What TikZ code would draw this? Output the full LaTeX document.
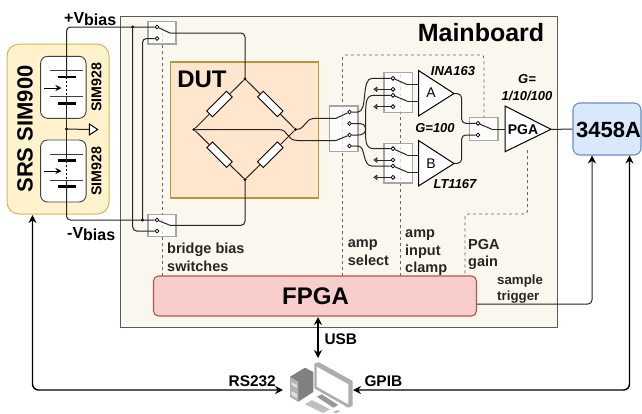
\documentclass[tikz,border=0pt]{standalone}
\usepackage{fontspec}
\setmainfont{Liberation Sans}
\usepackage{tikz}
\usetikzlibrary{arrows.meta,shadows}
\definecolor{main-fill}{HTML}{F9F7EE}
\definecolor{srs-fill}{HTML}{FFF2CC}
\definecolor{srs-line}{HTML}{D6B656}
\definecolor{dut-fill}{HTML}{FFE6CC}
\definecolor{dut-line}{HTML}{B8963A}
\definecolor{fpga-fill}{HTML}{F8CECC}
\definecolor{fpga-line}{HTML}{B85450}
\definecolor{meter-fill}{HTML}{DAE8FC}
\definecolor{meter-line}{HTML}{6C8EBF}
\tikzstyle{main-box}=[draw=black!65,fill=main-fill,line width=1pt,inner sep=0pt,drop shadow={shadow xshift=1pt,shadow yshift=-1pt,opacity=.35,fill=black}]
\tikzstyle{srs-box}=[draw=srs-line,fill=srs-fill,line width=1pt,rounded corners=12pt,inner sep=0pt]
\tikzstyle{sim-box}=[draw=black!75,fill=white,line width=.9pt,rounded corners=7pt,inner sep=0pt]
\tikzstyle{dut-box}=[draw=dut-line,fill=dut-fill,line width=1.1pt,inner sep=0pt]
\tikzstyle{fpga-box}=[draw=fpga-line,fill=fpga-fill,line width=1.1pt,rounded corners=5pt,inner sep=0pt]
\tikzstyle{meter-box}=[draw=meter-line,fill=meter-fill,line width=1.1pt,rounded corners=7pt,inner sep=0pt]
\tikzstyle{switch-box}=[draw=black!35,fill=white,fill opacity=.75,line width=1.2pt,inner sep=0pt]
\tikzstyle{resistor-node}=[draw=black,fill=white,line width=.9pt,minimum width=28pt,minimum height=8pt,inner sep=0pt]
\tikzstyle{terminal-node}=[draw=black,fill=white,circle,line width=.8pt,minimum size=3.8pt,inner sep=0pt]
\tikzstyle{dot-node}=[fill=black,circle,minimum size=3.4pt,inner sep=0pt]
\tikzstyle{wire-line}=[draw=black!85,line width=1pt]
\tikzstyle{bus-line}=[draw=black,line width=1.4pt]
\tikzstyle{ctrl-line}=[draw=black!60,line width=.8pt,dash pattern=on 3pt off 3pt,rounded corners=3pt]
\tikzstyle{amp-shape}=[draw=black,fill=white,line width=1pt]
\tikzstyle{thin-plate}=[draw=black!75,line width=.9pt]
\tikzstyle{thick-plate}=[draw=black,line width=2.6pt]
\tikzstyle{side-label}=[font=\fontsize{14.5}{17.6}\selectfont\bfseries,align=left,anchor=north west,inner sep=0pt,text=black!85]
\tikzstyle{big-label}=[font=\fontsize{24}{28}\selectfont\bfseries,inner sep=0pt]
\tikzstyle{gain-label}=[font=\fontsize{13}{16}\selectfont\bfseries\itshape,inner sep=0pt]
\tikzstyle{bus-label}=[font=\fontsize{15.4}{18}\selectfont\bfseries,inner sep=0pt]
\begin{document}
\begin{tikzpicture}[x=1pt,y=-1pt]
	\useasboundingbox (0,0) rectangle (642,413);

	\node (mainboard)[main-box,minimum width=437pt,minimum height=311pt] at (338.5,171.5) {};
	\node (srs)[srs-box,minimum width=102pt,minimum height=170pt] at (58,129) {};
	\node (dut)[dut-box,minimum width=148pt,minimum height=136pt] at (244.5,130) {};
	\node (sim1)[sim-box,minimum width=45.5pt,minimum height=62pt] at (63.3,87.3) {};
	\node (sim2)[sim-box,minimum width=45.5pt,minimum height=62pt] at (63.3,171) {};

	\node (mainboard-label)[big-label,font=\fontsize{25}{28}\selectfont\bfseries] at (481,33) {Mainboard};
	\node (dut-label)[big-label] at (202,79.5) {DUT};
	\node (srs-label)[big-label,font=\fontsize{22}{26}\selectfont\bfseries,rotate=90] at (25,129) {SRS SIM900};
	\node (sim1-label)[font=\fontsize{14.2}{16}\selectfont\bfseries,rotate=90,inner sep=0pt] at (96.5,87) {SIM928};
	\node (sim2-label)[font=\fontsize{14.2}{16}\selectfont\bfseries,rotate=90,inner sep=0pt] at (96.5,171) {SIM928};
	\node (vp-label)[font=\fontsize{16}{18}\selectfont\bfseries,inner sep=0pt,anchor=base west] at (64,23) {+V\raisebox{-2.7pt}{bias}};
	\node (vn-label)[font=\fontsize{16}{18}\selectfont\bfseries,inner sep=0pt,anchor=base west] at (67,238) {-V\raisebox{-2.7pt}{bias}};

	\draw [ctrl-line] (162.5,276) -- (162.5,27);
	\draw [ctrl-line] (342.5,276) -- (342.5,55) -- (484,55) -- (484,128);
	\draw [ctrl-line] (400.5,276) -- (400.5,73);
	\draw [ctrl-line] (527.5,150) -- (527.5,214) -- (465,214) -- (465,276);

	\node (sw1)[switch-box,minimum width=28pt,minimum height=22.5pt] at (162,32.8) {};
	\node (sw2)[switch-box,minimum width=28pt,minimum height=22pt] at (162,225.2) {};
	\node (sw3)[switch-box,minimum width=28.7pt,minimum height=45.3pt] at (343.7,128.7) {};
	\node (swa)[switch-box,minimum width=28.7pt,minimum height=39.5pt] at (398.4,92.4) {};
	\node (swb)[switch-box,minimum width=28.7pt,minimum height=39.5pt] at (398.4,163.3) {};
	\node (swp)[switch-box,minimum width=28.5pt,minimum height=22.3pt] at (483.8,129) {};

	\node (s1a)[terminal-node] at (157,27) {};
	\node (s1b)[terminal-node] at (157,38.5) {};
	\coordinate (s1p) at (170,33);
	\node (s2a)[terminal-node] at (157,220) {};
	\node (s2b)[terminal-node] at (157,231) {};
	\coordinate (s2p) at (170,225.3);
	\node (s3a)[terminal-node] at (349.5,112) {};
	\node (s3b)[terminal-node] at (349.5,123.5) {};
	\node (s3c)[terminal-node] at (349.5,135) {};
	\node (s3d)[terminal-node] at (349.5,146) {};
	\coordinate (s3p) at (336,118.3);
	\coordinate (s3q) at (336,140.5);
	\node (ua1)[terminal-node] at (393,78.3) {};
	\node (ua2)[terminal-node] at (393,89.3) {};
	\node (ua3)[terminal-node] at (393,95.3) {};
	\node (ua4)[terminal-node] at (393,106.7) {};
	\coordinate (uap) at (407,84.5);
	\coordinate (uaq) at (407,101);
	\node (ub1)[terminal-node] at (393,148.7) {};
	\node (ub2)[terminal-node] at (393,160) {};
	\node (ub3)[terminal-node] at (393,166) {};
	\node (ub4)[terminal-node] at (393,177.3) {};
	\coordinate (ubp) at (407,155);
	\coordinate (ubq) at (407,172);
	\node (spa)[terminal-node] at (478,123.3) {};
	\node (spb)[terminal-node] at (478,135) {};
	\coordinate (spp) at (492,129.3);

	\node (bt)[dot-node] at (245,79) {};
	\node (bl)[dot-node] at (194,129.5) {};
	\node (br)[dot-node] at (295.5,129.5) {};
	\node (bb)[dot-node] at (245,179.5) {};
	\node (r1)[resistor-node,rotate=45] at (219.5,104) {};
	\node (r2)[resistor-node,rotate=-45] at (270.3,104) {};
	\node (r3)[resistor-node,rotate=-45] at (219.5,154.7) {};
	\node (r4)[resistor-node,rotate=45] at (270.3,154.7) {};

	\coordinate (ampa-in1) at (418.5,84.5);
	\coordinate (ampa-in2) at (418.5,101);
	\coordinate (ampb-in1) at (418.5,155);
	\coordinate (ampb-in2) at (418.5,172);
	\coordinate (ampa-out) at (454,93.5);
	\coordinate (ampb-out) at (454,163.5);
	\coordinate (pga-in) at (505,129.3);
	\coordinate (pga-out) at (551,129.3);
	\draw [amp-shape] (418.5,70.5) -- (418.5,116) -- (ampa-out) -- cycle;
	\draw [amp-shape] (418.5,140.5) -- (418.5,186) -- (ampb-out) -- cycle;
	\draw [amp-shape] (505,106) -- (505,151.7) -- (pga-out) -- cycle;
	\node (ampa-label)[font=\fontsize{14}{16}\selectfont,inner sep=0pt] at (431,93) {A};
	\node (ampb-label)[font=\fontsize{14}{16}\selectfont,inner sep=0pt] at (431,163.5) {B};
	\node (pga-label)[font=\fontsize{14}{16}\selectfont\bfseries,inner sep=0pt] at (523,129.5) {PGA};

	\node (fpga)[fpga-box,minimum width=323pt,minimum height=40pt] at (315,296) {};
	\node (fpga-label)[big-label] at (315.5,296) {FPGA};
	\node (meter)[meter-box,minimum width=68pt,minimum height=52pt] at (607,129) {};
	\node (meter-label)[big-label,font=\fontsize{22}{26}\selectfont\bfseries] at (608.5,129.5) {3458A};

	\node (ina-label)[gain-label] at (453,71) {INA163};
	\node (lt-label)[gain-label] at (455,184.5) {LT1167};
	\node (g100-label)[gain-label] at (435,128.5) {G=100};
	\node (pga-gain-label)[gain-label,align=center] at (527,88) {G=\\[1pt]1/10/100};

	\node (bridge-label)[side-label] at (167,243) {bridge bias\\switches};
	\node (select-label)[side-label] at (347.7,239.5) {amp\\select};
	\node (clamp-label)[side-label] at (405,229.5) {amp\\input\\clamp};
	\node (gain-label)[side-label] at (468,239) {PGA\\gain};
	\node (trigger-label)[side-label,font=\fontsize{13.3}{16}\selectfont\bfseries] at (497,275) {sample\\trigger};
	\node (usb-label)[bus-label,anchor=base west] at (324.3,344) {USB};
	\node (rs-label)[bus-label,anchor=base east] at (276,386) {RS232};
	\node (gpib-label)[bus-label,anchor=base west] at (364.3,386) {GPIB};

	\node (tap)[dot-node] at (66.5,129) {};
	\node (d1)[dot-node] at (132.7,27) {};
	\node (d2)[dot-node] at (142.5,220) {};
	\coordinate (vt1) at (66.5,77);
	\coordinate (vt2) at (66.5,96.5);
	\coordinate (vt3) at (66.5,160.7);
	\coordinate (vt4) at (66.5,180);
	\coordinate (ref) at (89.3,129.5);

	\draw [thin-plate] (49.5,70.5) -- (83,70.5);
	\draw [thick-plate] (57.5,77) -- (75.5,77);
	\draw [thin-plate] (49.5,96.5) -- (83,96.5);
	\draw [thick-plate] (57.5,103.5) -- (75.5,103.5);
	\draw [thin-plate] (49.5,154) -- (83,154);
	\draw [thick-plate] (57.5,160.7) -- (75.5,160.7);
	\draw [thin-plate] (49.5,180) -- (83,180);
	\draw [thick-plate] (57.5,186.7) -- (75.5,186.7);
	\draw [black,line width=.9pt,dash pattern=on 2pt off 2pt] (vt1) -- (vt2);
	\draw [black,line width=.9pt,dash pattern=on 2pt off 2pt] (vt3) -- (vt4);

	\begin{scope}[>={Stealth[black,length=6pt,width=6pt]}]
	\draw [->,black,line width=.9pt] (44,88) -- (61.5,88);
	\draw [->,black,line width=.9pt] (44,171) -- (61.5,171);
	\end{scope}

	\draw [wire-line,rounded corners=4pt] (s1a) -| (vt1);
	\draw [wire-line] (vt2) -- (vt3);
	\draw [wire-line,rounded corners=4pt] (vt4) |- (s2a);
	\draw [wire-line,rounded corners=4pt] (s1b) -| (d2.center);
	\draw [wire-line,rounded corners=4pt] (d1.center) |- (s2b);
	\draw [wire-line,rounded corners=4pt] (s1p) -| (bt.center);
	\draw [wire-line,rounded corners=4pt] (s2p) -| (bb.center);
	\draw [wire-line] (tap.center) -- (ref);
	\draw [amp-shape] (ref) -- (89.3,124) -- (97.7,129.5) -- (89.3,135) -- cycle;
	\draw [wire-line] (br.center) .. controls (307,129.5) and (303,118.3) .. (316,118.3) -- (s3p);
	\draw [wire-line] (bl.center) -- (278,129.5) .. controls (290,129.5) and (285,140.5) .. (298,140.5) -- (s3q);
	\draw [wire-line] (s3a) -- (358,112) .. controls (368,112) and (361,78.3) .. (372,78.3) -- (ua1);
	\draw [wire-line] (s3b) -- (358,123.5) .. controls (363,123.5) and (365.5,125) .. (365.5,129) .. controls (365.5,133) and (363,135) .. (358,135) -- (s3c);
	\draw [wire-line] (365.5,129) .. controls (366,105) and (364,95.3) .. (374,95.3) -- (ua3);
	\draw [wire-line] (365.5,129) .. controls (366,138) and (364,148.7) .. (374,148.7) -- (ub1);
	\draw [wire-line] (s3d) -- (358,146) .. controls (366,146) and (362,166) .. (372,166) -- (ub3);
	\draw [wire-line,rounded corners=4pt] (ampa-out) -- (461.7,94) -- (461.7,123.3) -- (spa);
	\draw [wire-line,rounded corners=4pt] (ampb-out) -- (461.7,163) -- (461.7,135) -- (spb);

	\begin{scope}[every edge/.style=wire-line]
	\path (bt) edge node {} (r1);
	\path (r1) edge node {} (bl);
	\path (bt) edge node {} (r2);
	\path (r2) edge node {} (br);
	\path (bl) edge node {} (r3);
	\path (r3) edge node {} (bb);
	\path (br) edge node {} (r4);
	\path (r4) edge node {} (bb);
	\path (s1a) edge node {} (s1p);
	\path (s2a) edge node {} (s2p);
	\path (s3p) edge node {} (s3a);
	\path (s3q) edge node {} (s3c);
	\path (ua1) edge node {} (uap);
	\path (uap) edge node {} (ampa-in1);
	\path (ua3) edge node {} (uaq);
	\path (uaq) edge node {} (ampa-in2);
	\path (ub1) edge node {} (ubp);
	\path (ubp) edge node {} (ampb-in1);
	\path (ub3) edge node {} (ubq);
	\path (ubq) edge node {} (ampb-in2);
	\path (spa) edge node {} (spp);
	\path (spp) edge node {} (pga-in);
	\path (pga-out) edge node {} (meter);
	\end{scope}

	\begin{scope}[>={Triangle[open,length=4pt,width=5.5pt]}, every edge/.style=wire-line]
	\path [->] (ua2) edge node {} (373.3,89.3);
	\path [->] (ua4) edge node {} (373.3,106.7);
	\path [->] (ub2) edge node {} (373.3,160);
	\path [->] (ub4) edge node {} (373.3,177.3);
	\end{scope}

	\coordinate (srs-port) at (32.5,215);
	\coordinate (pc-left) at (283,390);
	\coordinate (pc-right) at (353,390);
	\coordinate (pc-top) at (318,358);
	\coordinate (fpga-port) at (318,317);
	\coordinate (fpga-side) at (477,304);
	\coordinate (meter-port1) at (592,155.5);
	\coordinate (meter-port2) at (629.5,155.5);

	\begin{scope}[>={Stealth[black,length=8pt,width=8pt]}]
	\draw [<->,bus-line,rounded corners=6pt] (srs-port) |- (pc-left);
	\draw [<->,bus-line,rounded corners=6pt] (meter-port2) |- (pc-right);
	\draw [<->,bus-line] (fpga-port) -- (pc-top);
	\draw [->,wire-line,rounded corners=4pt] (fpga-side) -| (meter-port1);
	\end{scope}

	\begin{scope}[line join=round]
	\fill [black!50] (290,376.7) -- (305,367.7) -- (313.3,372) -- (313.3,392) -- (298.3,401.7) -- (290,396.7) -- cycle;
	\fill [black!30] (290,376.7) -- (298.3,381.7) -- (298.3,401.7) -- (290,396.7) -- cycle;
	\fill [black!12] (291.5,382) -- (297,385) -- (297,388) -- (291.5,385) -- cycle;
	\fill [black!12] (291.5,391) -- (297,394) -- (297,398) -- (291.5,395) -- cycle;
	\fill [black!32] (314.3,363.3) -- (319,362.3) -- (352.7,381) -- (352.7,405.7) -- (348.3,407.7) -- (314.3,388.3) -- cycle;
	\fill [white] (316.7,366.7) -- (348.3,384.3) -- (348.3,404.3) -- (316.7,386.7) -- cycle;
	\fill [black!40] (316.7,396.7) -- (321.7,394.3) -- (338.3,405) -- (333.3,407.7) -- cycle;
	\fill [black!25] (305,404.3) -- (311.7,400) -- (330,409.3) -- (323,413) -- cycle;
	\fill [black!30] (333,412) -- (338,410) -- (340,411.5) -- (336,413) -- cycle;
	\end{scope}
\end{tikzpicture}
\end{document}
